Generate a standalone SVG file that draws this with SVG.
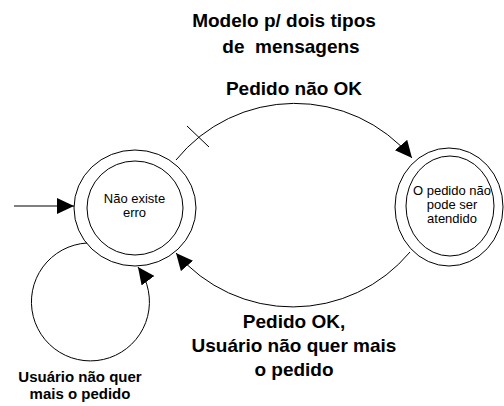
<svg xmlns="http://www.w3.org/2000/svg" width="504" height="406" viewBox="0 0 504 406">
<style>
.ring{fill:none;stroke:#000;stroke-width:1}
.edge{fill:none;stroke:#000;stroke-width:1}
.nt{font-family:"Liberation Sans",Arial,sans-serif;font-size:13px;fill:#000;text-anchor:middle}
.lb{font-family:"Liberation Sans",Arial,sans-serif;font-size:19px;font-weight:bold;fill:#000;text-anchor:middle}
.lbs{font-family:"Liberation Sans",Arial,sans-serif;font-size:15px;font-weight:bold;fill:#000;text-anchor:middle}
</style>
<defs>
<marker id="arr" viewBox="0 0 17 16" refX="17" refY="8" markerWidth="17" markerHeight="16" markerUnits="userSpaceOnUse" orient="auto">
<path d="M0,0 L17,8 L0,16 z" fill="#000"/>
</marker>
</defs>
<rect width="504" height="406" fill="#fff"/>
<text class="lb" x="284" y="27">Modelo p/ dois tipos</text>
<text class="lb" x="291" y="53" xml:space="preserve">de  mensagens</text>
<g id="node-nao-existe-erro">
<ellipse class="ring" cx="135" cy="208" rx="61" ry="58"/>
<ellipse class="ring" cx="135" cy="208" rx="48" ry="47"/>
<text class="nt" x="134.5" y="203">Não existe</text>
<text class="nt" x="134.5" y="217">erro</text>
</g>
<g id="node-pedido-nao-atendido">
<ellipse class="ring" cx="449" cy="207" rx="54" ry="59"/>
<ellipse class="ring" cx="450" cy="206" rx="44" ry="50"/>
<text class="nt" x="452" y="195">O pedido não</text>
<text class="nt" x="452" y="209">pode ser</text>
<text class="nt" x="452" y="223">atendido</text>
</g>
<g id="connectors">
<path class="edge" d="M14,206 L74,206" marker-end="url(#arr)"/>
<path class="edge" d="M176,160 A153 153 0 0 1 412,158" marker-end="url(#arr)"/>
<path class="edge" d="M187,126 L209,147"/>
<path class="edge" d="M410,252 A153 153 0 0 1 176,253" marker-end="url(#arr)"/>
<path class="edge" d="M87,243 A59 59 0 1 0 138,267" marker-end="url(#arr)"/>
</g>
<text class="lb" x="294" y="95">Pedido não OK</text>
<text class="lb" x="294" y="328">Pedido OK,</text>
<text class="lb" x="294" y="352">Usuário não quer mais</text>
<text class="lb" x="294" y="376">o pedido</text>
<text class="lbs" x="80" y="382">Usuário não quer</text>
<text class="lbs" x="80" y="399">mais o pedido</text>
</svg>
